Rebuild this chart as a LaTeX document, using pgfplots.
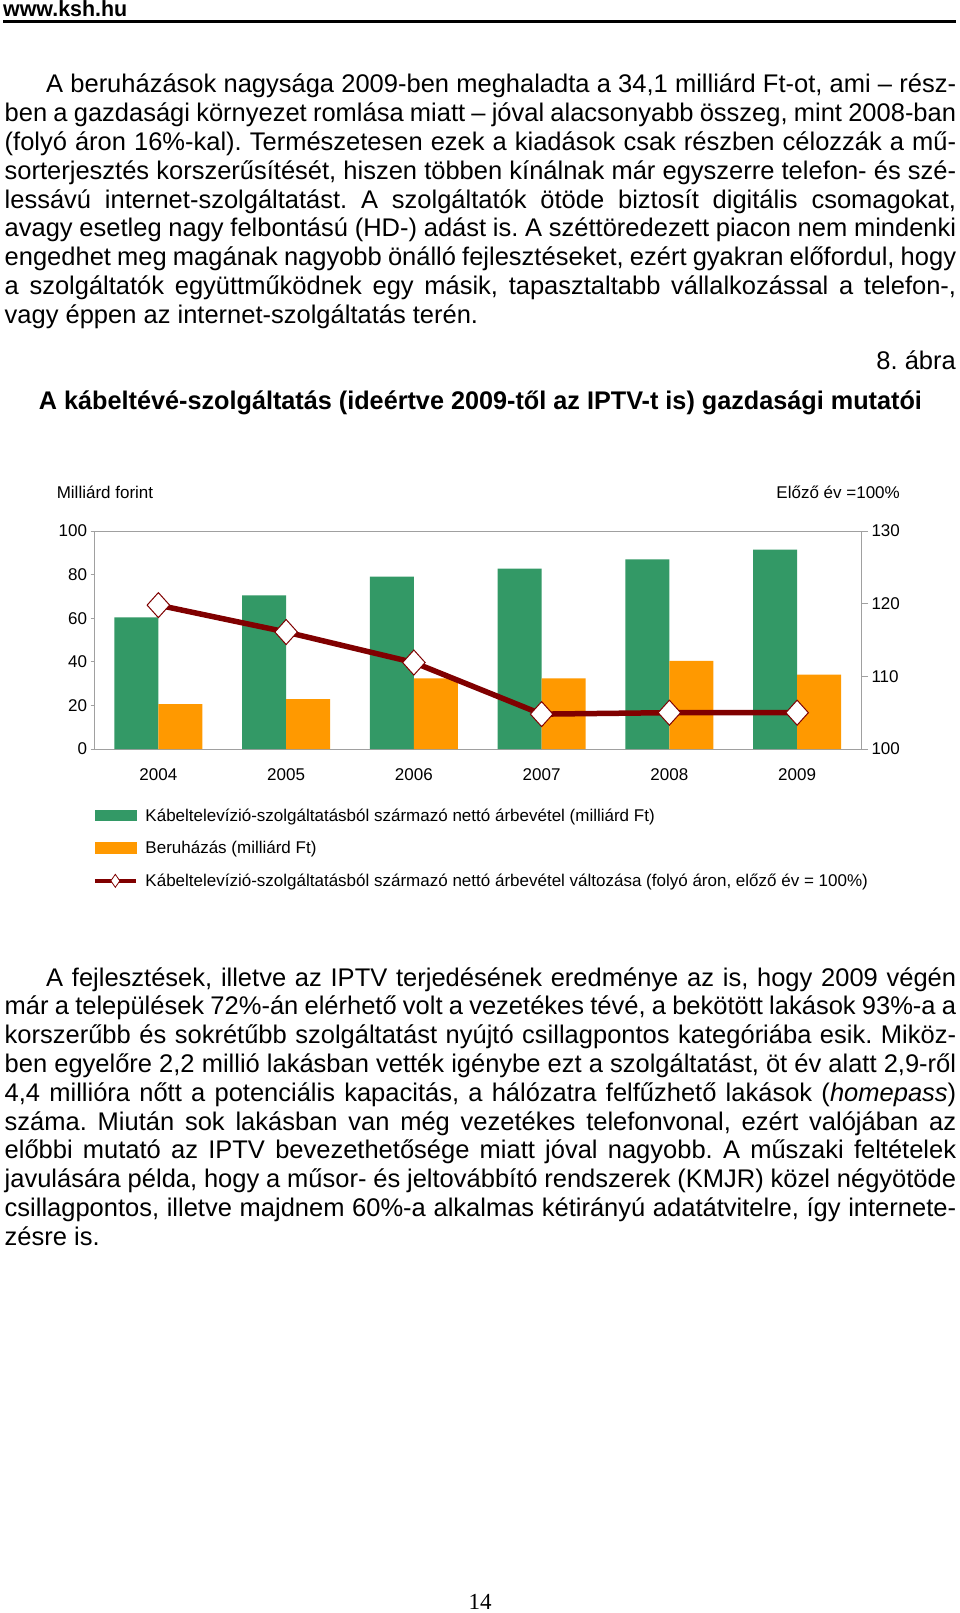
\documentclass[border=0pt]{standalone}
\usepackage{fontspec}
\setmainfont{Liberation Sans}
\newfontfamily\seriffont{Liberation Serif}
\usepackage{graphicx}
\usepackage{pgfplots}
\pgfplotsset{compat=1.18}
\definecolor{cgreen}{HTML}{339966}
\definecolor{corange}{HTML}{FF9900}
\definecolor{cline}{HTML}{800000}
\definecolor{cframe}{HTML}{A0A0A0}
\frenchspacing
\newcommand\body{\fontsize{25.5pt}{30pt}\selectfont}
\newcommand\chartfont{\fontsize{17pt}{20pt}\selectfont}
\newcommand\Jst[3]{\node[anchor=base west,inner sep=0pt,font=\body] at (#1pt,-#2pt) {\hbox to \dimexpr956pt-#1pt\relax{#3}};}
\newcommand\Lft[3]{\node[anchor=base west,inner sep=0pt,font=\body] at (#1pt,-#2pt) {#3};}
\begin{document}
\begin{tikzpicture}
\fill[white] (0,0) rectangle (960pt,-1613pt);
\useasboundingbox (0,0) rectangle (960pt,-1613pt);
% header
\node[anchor=base west,inner sep=0pt,font=\bfseries\fontsize{22pt}{26pt}\selectfont] at (3pt,-16.5pt) {\resizebox{124pt}{\height}{www.ksh.hu}};
\draw[line width=3pt] (3pt,-21.5pt) -- (956pt,-21.5pt);
% paragraph 1
\Jst{46}{93}{A beruházások nagysága 2009-ben meghaladta a 34,1 milliárd Ft-ot, ami – rész-}
\Jst{4.5}{121.8}{ben a gazdasági környezet romlása miatt – jóval alacsonyabb összeg, mint 2008-ban}
\Jst{4.5}{150.6}{(folyó áron 16\%-kal). Természetesen ezek a kiadások csak részben célozzák a mű-}
\Jst{4.5}{179.4}{sorterjesztés korszerűsítését, hiszen többen kínálnak már egyszerre telefon- és szé-}
\Jst{4.5}{208.2}{lessávú internet-szolgáltatást. A szolgáltatók ötöde biztosít digitális csomagokat,}
\Jst{4.5}{237}{avagy esetleg nagy felbontású (HD-) adást is. A széttöredezett piacon nem mindenki}
\Jst{4.5}{265.8}{engedhet meg magának nagyobb önálló fejlesztéseket, ezért gyakran előfordul, hogy}
\Jst{4.5}{294.6}{a szolgáltatók együttműködnek egy másik, tapasztaltabb vállalkozással a telefon-,}
\Lft{4.5}{323.4}{vagy éppen az internet-szolgáltatás terén.}
\node[anchor=base east,inner sep=0pt,font=\body] at (956pt,-369pt) {8. ábra};
\node[anchor=base,inner sep=0pt,font=\bfseries\fontsize{25.5pt}{30pt}\selectfont] at (480.5pt,-409pt) {\resizebox{883pt}{\height}{A kábeltévé-szolgáltatás (ideértve 2009-től az IPTV-t is) gazdasági mutatói}};
% chart labels
\node[anchor=base west,inner sep=0pt,font=\chartfont] at (56.6pt,-498pt) {Milliárd forint};
\node[anchor=base east,inner sep=0pt,font=\chartfont] at (900pt,-498pt) {Előző év =100\%};
\begin{axis}[
  at={(94.5pt,-749pt)}, anchor=south west,
  scale only axis, width=766.5pt, height=218pt,
  xmin=-0.5, xmax=5.5, ymin=0, ymax=100,
  xtick={0,1,2,3,4,5}, xticklabels={2004,2005,2006,2007,2008,2009},
  x tick style={draw=none},
  ytick={0,20,40,60,80,100}, ytick pos=left,
  tick align=outside, major tick length=4pt,
  axis line style={cframe, line width=1pt},
  y tick style={cframe, line width=1pt},
  ticklabel style={font=\chartfont},
  /pgf/number format/assume math mode=true,
  xticklabel style={anchor=base, yshift=-27pt},
]
\addplot[ybar, bar width=0.344, bar shift=-0.172, fill=cgreen, draw=none] coordinates {(0,60.4) (1,70.5) (2,79.1) (3,82.7) (4,87.0) (5,91.5)};
\addplot[ybar, bar width=0.344, bar shift=0.172, fill=corange, draw=none] coordinates {(0,20.6) (1,22.9) (2,32.4) (3,32.4) (4,40.4) (5,34.1)};
\end{axis}
\begin{axis}[
  at={(94.5pt,-749pt)}, anchor=south west,
  scale only axis, width=766.5pt, height=218pt,
  xmin=-0.5, xmax=5.5, ymin=100, ymax=130,
  axis x line=none, axis y line*=right,
  ytick={100,110,120,130},
  tick align=outside, major tick length=7pt,
  axis line style={cframe, line width=1pt},
  y tick style={cframe, line width=1pt},
  ticklabel style={font=\chartfont},
  /pgf/number format/assume math mode=true,
  clip=false,
  legend cell align=left,
  legend style={at={(axis description cs:-0.0025,-0.257)}, anchor=north west, draw=none, fill=none,
    inner sep=0pt, outer sep=0pt, row sep=13.4pt, column sep=5.4pt, font=\chartfont,
    cells={anchor=base west, inner sep=0pt, text height=14pt, text depth=4pt}},
]
\addlegendimage{legend image code/.code={\fill[cgreen] (0pt,0.75pt) rectangle (41pt,11.25pt);}}
\addlegendentry{Kábeltelevízió-szolgáltatásból származó nettó árbevétel (milliárd Ft)}
\addlegendimage{legend image code/.code={\fill[corange] (0pt,0.75pt) rectangle (41pt,11.25pt);}}
\addlegendentry{Beruházás (milliárd Ft)}
\addplot[color=cline, line width=5.5pt, mark=diamond*, mark size=12.5pt,
  mark options={fill=white, draw=cline, line width=1pt, xscale=1.2},
  legend image code/.code={\draw[cline, line width=4.5pt] (0pt,6pt) -- (41pt,6pt);
    \draw[cline, fill=white, line width=0.8pt] (20.5pt,-0.5pt) -- (25pt,6pt) -- (20.5pt,12.5pt) -- (16pt,6pt) -- cycle;}]
  coordinates {(0,119.8) (1,116.1) (2,111.9) (3,104.8) (4,105.0) (5,105.0)};
\addlegendentry{Kábeltelevízió-szolgáltatásból származó nettó árbevétel változása (folyó áron, előző év = 100\%)}
\end{axis}
% paragraph 2
\Jst{46}{986}{A fejlesztések, illetve az IPTV terjedésének eredménye az is, hogy 2009 végén}
\Jst{4.5}{1014.8}{már a települések 72\%-án elérhető volt a vezetékes tévé, a bekötött lakások 93\%-a a}
\Jst{4.5}{1043.6}{korszerűbb és sokrétűbb szolgáltatást nyújtó csillagpontos kategóriába esik. Miköz-}
\Jst{4.5}{1072.4}{ben egyelőre 2,2 millió lakásban vették igénybe ezt a szolgáltatást, öt év alatt 2,9-ről}
\Jst{4.5}{1101.2}{4,4 millióra nőtt a potenciális kapacitás, a hálózatra felfűzhető lakások (\textit{homepass})}
\Jst{4.5}{1130}{száma. Miután sok lakásban van még vezetékes telefonvonal, ezért valójában az}
\Jst{4.5}{1158.8}{előbbi mutató az IPTV bevezethetősége miatt jóval nagyobb. A műszaki feltételek}
\Jst{4.5}{1187.6}{javulására példa, hogy a műsor- és jeltovábbító rendszerek (KMJR) közel négyötöde}
\Jst{4.5}{1216.4}{csillagpontos, illetve majdnem 60\%-a alkalmas kétirányú adatátvitelre, így internete-}
\Lft{4.5}{1245.2}{zésre is.}
% page number
\node[anchor=base,inner sep=0pt,font=\seriffont\fontsize{23pt}{28pt}\selectfont] at (480pt,-1609pt) {14};
\end{tikzpicture}
\end{document}
